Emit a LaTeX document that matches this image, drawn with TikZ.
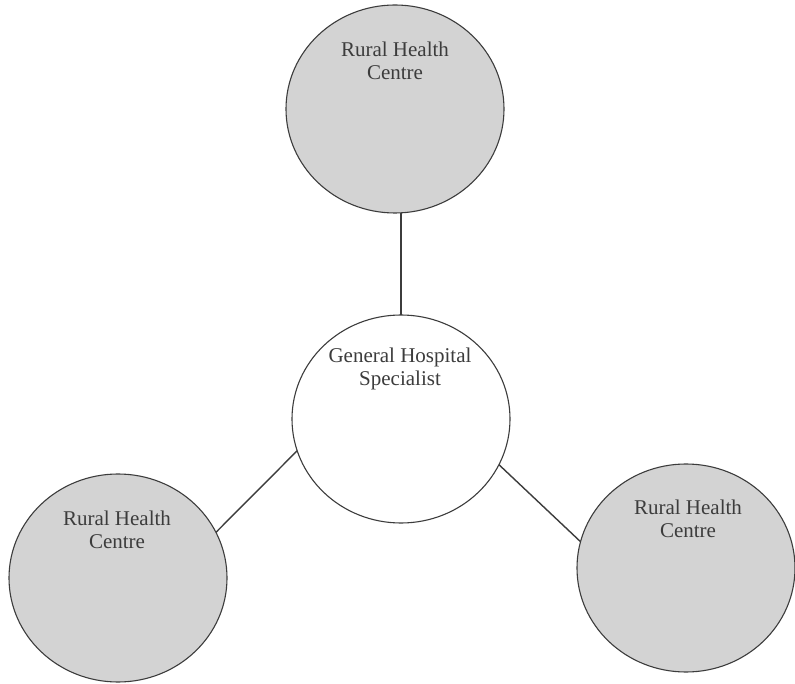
\documentclass[tikz,border=0pt]{standalone}
\usepackage{fontspec}
\setmainfont{Liberation Serif}
\usetikzlibrary{shapes.geometric}
\definecolor{inkgray}{HTML}{3C3C3C}
\definecolor{fillgray}{HTML}{D3D3D3}
\tikzset{
  rhc/.style={ellipse, draw=inkgray, line width=1.1pt, fill=fillgray,
    minimum width=218pt, minimum height=208pt, inner sep=0pt, outer sep=0pt},
  hubc/.style={rhc, fill=white},
  lbl/.style={align=center, text=inkgray, inner sep=0pt,
    font=\fontsize{21}{23}\selectfont},
  link/.style={draw=inkgray, line width=1.4pt}
}
\begin{document}
\begin{tikzpicture}[x=1pt, y=-1pt]
\useasboundingbox[fill=white] (0,0) rectangle (795,684);
\node[rhc] (top) at (395,109) {};
\node[hubc] (hub) at (401,419) {};
\node[rhc] (bl) at (118,578) {};
\node[rhc] (br) at (686,568) {};
\node[lbl] (toplbl) at (395,61) {Rural Health\\Centre};
\node[lbl] (hublbl) at (400,369) {General Hospital\\Specialist};
\node[lbl] (bllbl) at (117,530) {Rural Health\\Centre};
\node[lbl] (brlbl) at (688,519) {Rural Health\\Centre};
\draw[link] (hub.north) -- (hub.north |- top.south);
\draw[link] (hub.197.6) -- (bl.25.9);
\draw[link] (hub.-25.8) -- (br.166);
\end{tikzpicture}
\end{document}
